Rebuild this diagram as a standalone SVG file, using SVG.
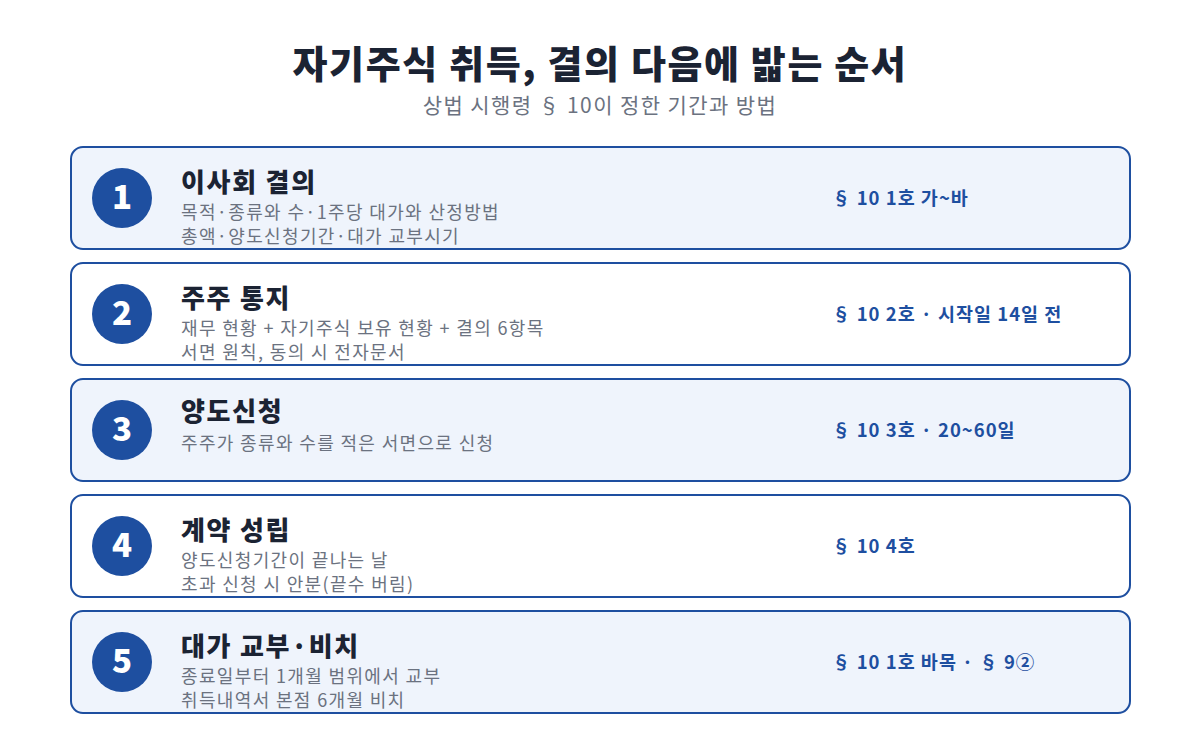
<svg xmlns="http://www.w3.org/2000/svg" width="1200" height="740" viewBox="0 0 1200 740">
<style>
text{font-family:"Noto Sans CJK KR","Noto Sans",sans-serif}
.title{font-size:38px;font-weight:900;fill:#1b2333;letter-spacing:1.6px}
.sub{font-size:21px;fill:#6b7280;letter-spacing:1.4px}
.card{stroke:#1e4fa0;stroke-width:2}
.odd{fill:#eff4fc}
.even{fill:#ffffff}
.circ{fill:#1e4fa0}
.num{font-size:33px;font-weight:900;fill:#ffffff;text-anchor:middle}
.head{font-size:26px;font-weight:900;fill:#1b2333;letter-spacing:1.7px}
.desc{font-size:18px;fill:#6b7280;letter-spacing:1.35px}
.ref{font-size:18.5px;font-weight:700;fill:#1e4fa0;letter-spacing:1px}
</style>
<rect width="1200" height="740" fill="#ffffff"/>
<text class="title" x="600" y="78" text-anchor="middle">자기주식 취득, 결의 다음에 밟는 순서</text>
<text class="sub" x="600" y="113" text-anchor="middle">상법 시행령 § 10이 정한 기간과 방법</text>
<g id="connectors"></g>
<g id="step1">
<rect class="card odd" x="71" y="147" width="1059" height="102" rx="12"/>
<circle class="circ" cx="122" cy="198" r="30"/>
<text class="num" x="122" y="209">1</text>
<text class="head" x="181" y="192">이사회 결의</text>
<text class="desc" x="181" y="219">목적·종류와 수·1주당 대가와 산정방법</text>
<text class="desc" x="181" y="243">총액·양도신청기간·대가 교부시기</text>
<text class="ref" x="832" y="205">§ 10 1호 가~바</text>
</g>
<g id="step2">
<rect class="card even" x="71" y="263" width="1059" height="102" rx="12"/>
<circle class="circ" cx="122" cy="314" r="30"/>
<text class="num" x="122" y="325">2</text>
<text class="head" x="181" y="308">주주 통지</text>
<text class="desc" x="181" y="335">재무 현황 + 자기주식 보유 현황 + 결의 6항목</text>
<text class="desc" x="181" y="359">서면 원칙, 동의 시 전자문서</text>
<text class="ref" x="832" y="321">§ 10 2호 · 시작일 14일 전</text>
</g>
<g id="step3">
<rect class="card odd" x="71" y="379" width="1059" height="102" rx="12"/>
<circle class="circ" cx="122" cy="430" r="30"/>
<text class="num" x="122" y="441">3</text>
<text class="head" x="181" y="421">양도신청</text>
<text class="desc" x="181" y="450">주주가 종류와 수를 적은 서면으로 신청</text>
<text class="ref" x="832" y="437">§ 10 3호 · 20~60일</text>
</g>
<g id="step4">
<rect class="card even" x="71" y="495" width="1059" height="102" rx="12"/>
<circle class="circ" cx="122" cy="546" r="30"/>
<text class="num" x="122" y="557">4</text>
<text class="head" x="181" y="540">계약 성립</text>
<text class="desc" x="181" y="567">양도신청기간이 끝나는 날</text>
<text class="desc" x="181" y="591">초과 신청 시 안분(끝수 버림)</text>
<text class="ref" x="832" y="553">§ 10 4호</text>
</g>
<g id="step5">
<rect class="card odd" x="71" y="611" width="1059" height="102" rx="12"/>
<circle class="circ" cx="122" cy="662" r="30"/>
<text class="num" x="122" y="673">5</text>
<text class="head" x="181" y="656">대가 교부·비치</text>
<text class="desc" x="181" y="683">종료일부터 1개월 범위에서 교부</text>
<text class="desc" x="181" y="707">취득내역서 본점 6개월 비치</text>
<text class="ref" x="832" y="669">§ 10 1호 바목 · § 9②</text>
</g>
</svg>
